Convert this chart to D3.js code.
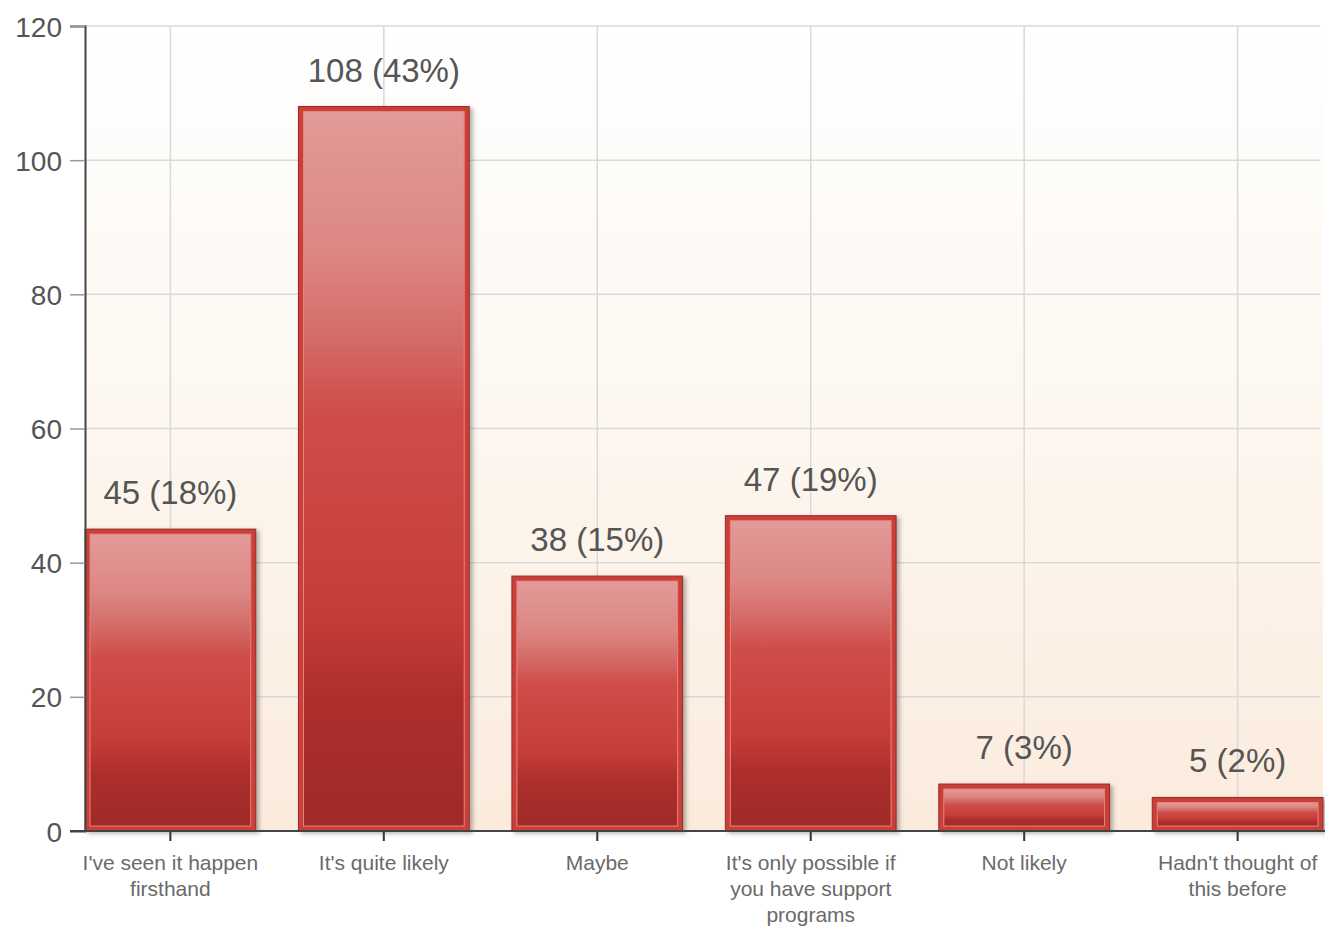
<!DOCTYPE html>
<html>
<head>
<meta charset="utf-8">
<script src="https://cdn.jsdelivr.net/npm/d3@7"></script>
<style>
  body { margin: 0; background: #fff; }
  svg { display: block; font-family: "Liberation Sans", Arial, sans-serif; }
</style>
</head>
<body>
<div id="chart"></div>
<script>
// data
const categories = [
  "I've seen it happen firsthand",
  "It's quite likely",
  "Maybe",
  "It's only possible if you have support programs",
  "Not likely",
  "Hadn't thought of this before"
];
const counts = [45, 108, 38, 47, 7, 5];
const percents = [18, 43, 15, 19, 3, 2];
const yTicks = [0, 20, 40, 60, 80, 100, 120];

const width = 1325, height = 929;
const margin = {top: 26, left: 85, right: 2, bottom: 98};

const svg = d3.select("#chart").append("svg")
  .attr("width", width)
  .attr("height", height);

const defs = svg.append("defs");

const bg = defs.append("linearGradient")
  .attr("id", "bg").attr("x1", 0).attr("y1", 0).attr("x2", 0).attr("y2", 1);
bg.append("stop").attr("offset", 0).attr("stop-color", "#ffffff");
bg.append("stop").attr("offset", 0.45).attr("stop-color", "#fdf8f1");
bg.append("stop").attr("offset", 1).attr("stop-color", "#fbebdd");

const barGrad = defs.append("linearGradient")
  .attr("id", "barGrad").attr("x1", 0).attr("y1", 0).attr("x2", 0).attr("y2", 1);
[[0, "#e39a98"], [0.2, "#dc8784"], [0.32, "#d46a66"], [0.42, "#cf4d49"],
 [0.7, "#c63d38"], [0.82, "#ad2f2c"], [1, "#9f2a27"]]
  .forEach(([o, c]) => barGrad.append("stop").attr("offset", o).attr("stop-color", c));

const shadow = defs.append("filter").attr("id", "shadow")
  .attr("x", "-10%").attr("y", "-10%").attr("width", "130%").attr("height", "130%");
shadow.append("feDropShadow")
  .attr("dx", 3).attr("dy", 2).attr("stdDeviation", 2)
  .attr("flood-color", "#555").attr("flood-opacity", 0.45);

const x = d3.scaleBand()
  .domain(categories)
  .range([margin.left, width - margin.right])
  .paddingInner(0.2)
  .paddingOuter(0);

const y = d3.scaleLinear()
  .domain([0, 120])
  .range([height - margin.bottom, margin.top]);

const plotW = width - margin.right - margin.left;

// plot background
svg.append("rect")
  .attr("x", margin.left).attr("y", y(120))
  .attr("width", plotW).attr("height", y(0) - y(120))
  .attr("fill", "url(#bg)");

// gridlines
svg.append("g")
  .selectAll("line.hgrid")
  .data(yTicks.filter(d => d > 0))
  .join("line")
  .attr("x1", margin.left).attr("x2", width - 5)
  .attr("y1", d => y(d)).attr("y2", d => y(d))
  .attr("stroke", "#d9d9d9").attr("stroke-width", 1.5);

svg.append("g")
  .selectAll("line.vgrid")
  .data(categories)
  .join("line")
  .attr("x1", d => x(d) + x.bandwidth() / 2).attr("x2", d => x(d) + x.bandwidth() / 2)
  .attr("y1", y(120)).attr("y2", y(0))
  .attr("stroke", "#d9d9d9").attr("stroke-width", 1.5);

// bars
const bars = svg.append("g").selectAll("g.bar")
  .data(categories.map((c, i) => ({cat: c, value: counts[i], pct: percents[i]})))
  .join("g").attr("class", "bar");

bars.append("rect")
  .attr("x", d => x(d.cat))
  .attr("y", d => y(d.value))
  .attr("width", x.bandwidth())
  .attr("height", d => y(0) - y(d.value))
  .attr("fill", "#c93f39")
  .attr("stroke", "#9b2926")
  .attr("stroke-width", 1)
  .attr("filter", "url(#shadow)");

bars.append("rect")
  .attr("x", d => x(d.cat) + 5)
  .attr("y", d => y(d.value) + 5)
  .attr("width", x.bandwidth() - 10)
  .attr("height", d => Math.max(0, y(0) - y(d.value) - 10))
  .attr("fill", "url(#barGrad)")
  .attr("stroke", "#e8837e")
  .attr("stroke-width", 1);

// value labels
bars.append("text")
  .attr("x", d => x(d.cat) + x.bandwidth() / 2)
  .attr("y", d => y(d.value) - 25)
  .attr("text-anchor", "middle")
  .attr("fill", "#555")
  .style("font-size", "33px")
  .text(d => `${d.value} (${d.pct}%)`);

// y axis
const yAxis = svg.append("g")
  .attr("transform", `translate(${margin.left},0)`)
  .call(d3.axisLeft(y).tickValues(yTicks).tickSize(15).tickPadding(8));
yAxis.select(".domain").attr("stroke", "#444").attr("stroke-width", 2);
yAxis.selectAll(".tick line").attr("stroke", "#999").attr("stroke-width", 1.5);
yAxis.selectAll(".tick text")
  .attr("fill", "#555")
  .style("font-size", "28px")
  .attr("dy", "0.36em");

// x axis
const xAxis = svg.append("g")
  .attr("transform", `translate(0,${y(0)})`)
  .call(d3.axisBottom(x).tickSize(10).tickPadding(14).tickSizeOuter(0));
xAxis.select(".domain")
  .attr("d", `M${margin.left - 15},0H${width}`)
  .attr("stroke", "#444").attr("stroke-width", 2);
xAxis.selectAll(".tick line").attr("stroke", "#333").attr("stroke-width", 2);
xAxis.selectAll(".tick text")
  .attr("fill", "#6a6a6a")
  .style("font-size", "21px")
  .call(wrap, 182);

function wrap(texts, maxW) {
  texts.each(function() {
    const text = d3.select(this);
    const words = text.text().split(/\s+/);
    const y0 = text.attr("y");
    text.text(null);
    let line = [];
    let lineNo = 0;
    let tspan = text.append("tspan").attr("x", 0).attr("y", y0).attr("dy", "0.71em");
    words.forEach(w => {
      line.push(w);
      tspan.text(line.join(" "));
      if (tspan.node().getComputedTextLength() > maxW && line.length > 1) {
        line.pop();
        tspan.text(line.join(" "));
        line = [w];
        lineNo++;
        tspan = text.append("tspan").attr("x", 0).attr("y", y0)
          .attr("dy", `${0.71 + lineNo * 1.25}em`).text(w);
      }
    });
  });
}
</script>
</body>
</html>
